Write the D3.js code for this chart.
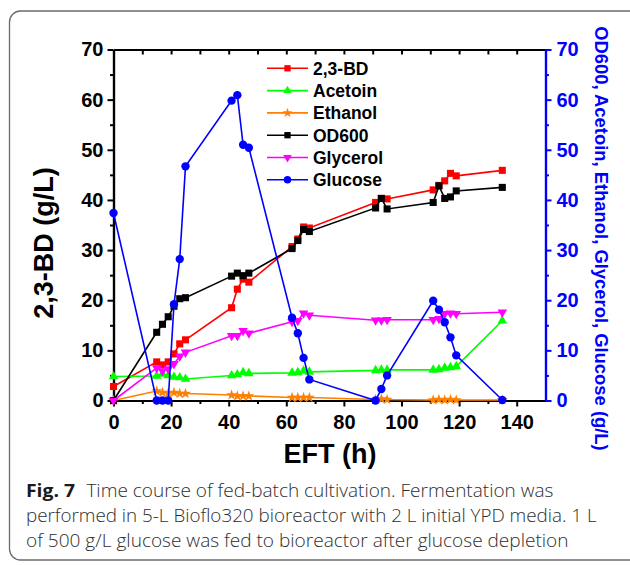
<!DOCTYPE html>
<html>
<head>
<meta charset="utf-8">
<script src="https://cdn.jsdelivr.net/npm/d3@7"></script>
<style>
  body { margin: 0; background: #fff; }
  svg { display: block; }
</style>
</head>
<body>
<div id="chart"></div>
<script>
// sampling times (h)
var time = [0, 15, 17, 19, 21, 23, 25, 41, 43, 45, 47, 62, 64, 66, 68, 91, 93, 95, 111, 113, 115, 117, 119, 135];

// concentrations (g/L) / OD600
var bd       = [2.8, 7.7, 7.1, 7.7, 9.3, 11.3, 12.1, 18.5, 22.2, 24.2, 23.6, 30.7, 32.2, 34.6, 34.4, 39.5, 40.3, 40.2, 42.0, 42.9, 43.8, 45.3, 44.8, 45.9];
var acetoin  = [4.8, 4.9, 5.3, 5.0, 4.7, 4.6, 4.3, 5.0, 5.2, 5.6, 5.4, 5.5, 5.6, 5.9, 5.7, 6.0, 6.1, 6.1, 6.1, 6.2, 6.5, 6.6, 6.8, 15.9];
var ethanol  = [0, 1.9, 1.6, 1.5, 1.6, 1.4, 1.4, 1.1, 0.9, 0.9, 0.9, 0.6, 0.6, 0.6, 0.6, 0.2, 0.3, 0.2, 0.1, 0.2, 0.1, 0.2, 0.1, 0.1];
var od600    = [0, 13.6, 15.2, 16.7, 18.8, 20.3, 20.5, 24.8, 25.4, 24.9, 25.4, 30.3, 31.9, 34.1, 33.7, 38.4, 40.3, 38.2, 39.5, 42.8, 40.3, 40.6, 41.8, 42.5];
var glycerol = [0, 6.5, 5.9, 6.3, 7.3, 8.8, 9.6, 12.9, 12.9, 13.9, 13.4, 15.7, 15.9, 17.4, 17.0, 16.0, 16.0, 16.1, 16.1, 16.3, 17.3, 17.4, 17.3, 17.6];
var glucose  = [37.4, 0, 0, 0, 19.2, 28.2, 46.7, 59.8, 60.9, 51.0, 50.4, 16.5, 13.4, 8.5, 4.2, 0, 2.3, 5.0, 19.9, 18.1, 15.6, 12.6, 9.0, 0.1];

var seriesNames = ["2,3-BD", "Acetoin", "Ethanol", "OD600", "Glycerol", "Glucose"];
var xTicks = [0, 20, 40, 60, 80, 100, 120, 140];
var yTicks = [0, 10, 20, 30, 40, 50, 60, 70];

function main() {

var W = 630, H = 565;
var x0 = 113.5, x1 = 545.5, yTop = 49.5, yBot = 400.5;

var svg = d3.select("#chart").append("svg")
    .attr("width", W)
    .attr("height", H);

// figure frame
svg.append("rect")
    .attr("x", 9.5).attr("y", 11)
    .attr("width", 640).attr("height", 549)
    .attr("rx", 11)
    .attr("fill", "none")
    .attr("stroke", "#6b6b6b")
    .attr("stroke-width", 1.3);

var x = d3.scaleLinear().domain([0, 150]).range([x0, x1]);
var yL = d3.scaleLinear().domain([0, 70]).range([yBot, yTop]);
var yR = d3.scaleLinear().domain([0, 70]).range([yBot, yTop]);

var tickFont = "'Liberation Sans', Arial, sans-serif";

function styleAxis(g, color) {
  g.select(".domain").attr("stroke", color).attr("stroke-width", 2.2);
  g.selectAll(".tick line").attr("stroke", color).attr("stroke-width", 2);
  g.selectAll(".tick text")
    .attr("fill", color)
    .attr("font-family", tickFont)
    .attr("font-weight", "bold")
    .attr("font-size", 20);
}

// minor ticks first
svg.append("g").attr("transform", "translate(0," + yBot + ")")
  .call(d3.axisBottom(x).tickValues(d3.range(10, 140, 20)).tickSize(3.5).tickSizeOuter(0).tickFormat(""))
  .call(styleAxis, "#000");
svg.append("g").attr("transform", "translate(0," + yTop + ")")
  .call(d3.axisTop(x).tickValues(d3.range(10, 150, 10)).tickSize(-5).tickSizeOuter(0).tickFormat(""))
  .call(styleAxis, "#000");
svg.append("g").attr("transform", "translate(" + x0 + ",0)")
  .call(d3.axisLeft(yL).tickValues(d3.range(5, 70, 10)).tickSize(3.5).tickSizeOuter(0).tickFormat(""))
  .call(styleAxis, "#000");

// major axes
svg.append("g").attr("transform", "translate(0," + yBot + ")")
  .call(d3.axisBottom(x).tickValues(xTicks).tickSize(6).tickPadding(8).tickSizeOuter(0))
  .call(styleAxis, "#000");
svg.append("g").attr("transform", "translate(" + x0 + ",0)")
  .call(d3.axisLeft(yL).tickValues(yTicks).tickSize(6).tickPadding(4).tickSizeOuter(0))
  .call(styleAxis, "#000");

// right axis (blue)
svg.append("g").attr("transform", "translate(" + x1 + ",0)")
  .call(d3.axisRight(yR).tickValues(d3.range(5, 70, 10)).tickSize(3.5).tickSizeOuter(0).tickFormat(""))
  .call(styleAxis, "#0000ff");
svg.append("g").attr("transform", "translate(" + x1 + ",0)")
  .call(d3.axisRight(yR).tickValues(yTicks).tickSize(6).tickPadding(5).tickSizeOuter(0))
  .call(styleAxis, "#0000ff");

// axis titles
svg.append("text")
    .attr("transform", "translate(53,243) rotate(-90)")
    .attr("text-anchor", "middle")
    .attr("font-family", tickFont)
    .attr("font-weight", "bold")
    .attr("font-size", 27)
    .text("2,3-BD (g/L)");

svg.append("text")
    .attr("x", 330).attr("y", 463)
    .attr("text-anchor", "middle")
    .attr("font-family", tickFont)
    .attr("font-weight", "bold")
    .attr("font-size", 27)
    .text("EFT (h)");

svg.append("text")
    .attr("transform", "translate(595,238.5) rotate(90)")
    .attr("text-anchor", "middle")
    .attr("font-family", tickFont)
    .attr("font-weight", "bold")
    .attr("font-size", 18.4)
    .attr("fill", "#0000ff")
    .text("OD600, Acetoin, Ethanol, Glycerol, Glucose (g/L)");

// series
var series = [
  {name: seriesNames[0], values: bd,       color: "#ff0000", sym: d3.symbolSquare,   size: 50, rot: 0,   y: yL},
  {name: seriesNames[1], values: acetoin,  color: "#00ff00", sym: d3.symbolTriangle, size: 40, rot: 0,   y: yL},
  {name: seriesNames[2], values: ethanol,  color: "#ff8000", sym: d3.symbolStar,     size: 38, rot: 0,   y: yL},
  {name: seriesNames[3], values: od600,    color: "#000000", sym: d3.symbolSquare,   size: 50, rot: 0,   y: yR},
  {name: seriesNames[4], values: glycerol, color: "#ff00ff", sym: d3.symbolTriangle, size: 40, rot: 180, y: yR},
  {name: seriesNames[5], values: glucose,  color: "#0000ff", sym: d3.symbolCircle,   size: 55, rot: 0,   y: yR}
];

series.forEach(function(s) {
  var pts = time.map(function(t, i) { return [t, s.values[i]]; });
  var line = d3.line()
      .x(function(d) { return x(d[0]); })
      .y(function(d) { return s.y(d[1]); });
  var g = svg.append("g");
  g.append("path")
      .datum(pts)
      .attr("d", line)
      .attr("fill", "none")
      .attr("stroke", s.color)
      .attr("stroke-width", 1.6);
  g.selectAll("path.pt")
    .data(pts)
    .enter().append("path")
      .attr("class", "pt")
      .attr("d", d3.symbol().type(s.sym).size(s.size))
      .attr("transform", function(d) {
        return "translate(" + x(d[0]) + "," + s.y(d[1]) + ") rotate(" + s.rot + ")";
      })
      .attr("fill", s.color);
});

// legend
var leg = svg.append("g");
series.forEach(function(s, i) {
  var cy = 68.3 + i * 22.3;
  leg.append("line")
      .attr("x1", 267).attr("x2", 308)
      .attr("y1", cy).attr("y2", cy)
      .attr("stroke", s.color)
      .attr("stroke-width", 1.6);
  leg.append("path")
      .attr("d", d3.symbol().type(s.sym).size(s.size * 0.8))
      .attr("transform", "translate(287.5," + cy + ") rotate(" + s.rot + ")")
      .attr("fill", s.color);
  leg.append("text")
      .attr("x", 313).attr("y", cy)
      .attr("dy", "0.36em")
      .attr("font-family", tickFont)
      .attr("font-weight", "bold")
      .attr("font-size", 17.5)
      .text(s.name);
});

// caption
var capFont = "'Open Sans', 'Noto Sans', sans-serif";
var cap = svg.append("g").attr("fill", "#2e2e2e").attr("font-family", capFont).attr("font-size", 18.5).attr("font-weight", 300);
cap.append("text")
    .attr("x", 26).attr("y", 497)
    .attr("font-weight", "bold")
    .attr("fill", "#1a1a1a")
    .attr("textLength", 49).attr("lengthAdjust", "spacingAndGlyphs")
    .text("Fig. 7");
cap.append("text")
    .attr("x", 86.4).attr("y", 497)
    .attr("textLength", 467).attr("lengthAdjust", "spacingAndGlyphs")
    .text("Time course of fed-batch cultivation. Fermentation was");
cap.append("text")
    .attr("x", 26).attr("y", 522)
    .attr("textLength", 570.6).attr("lengthAdjust", "spacingAndGlyphs")
    .text("performed in 5-L Bioflo320 bioreactor with 2 L initial YPD media. 1 L");
cap.append("text")
    .attr("x", 26).attr("y", 547)
    .attr("textLength", 542.5).attr("lengthAdjust", "spacingAndGlyphs")
    .text("of 500 g/L glucose was fed to bioreactor after glucose depletion");

}

document.addEventListener("DOMContentLoaded", main);
</script>
</body>
</html>
